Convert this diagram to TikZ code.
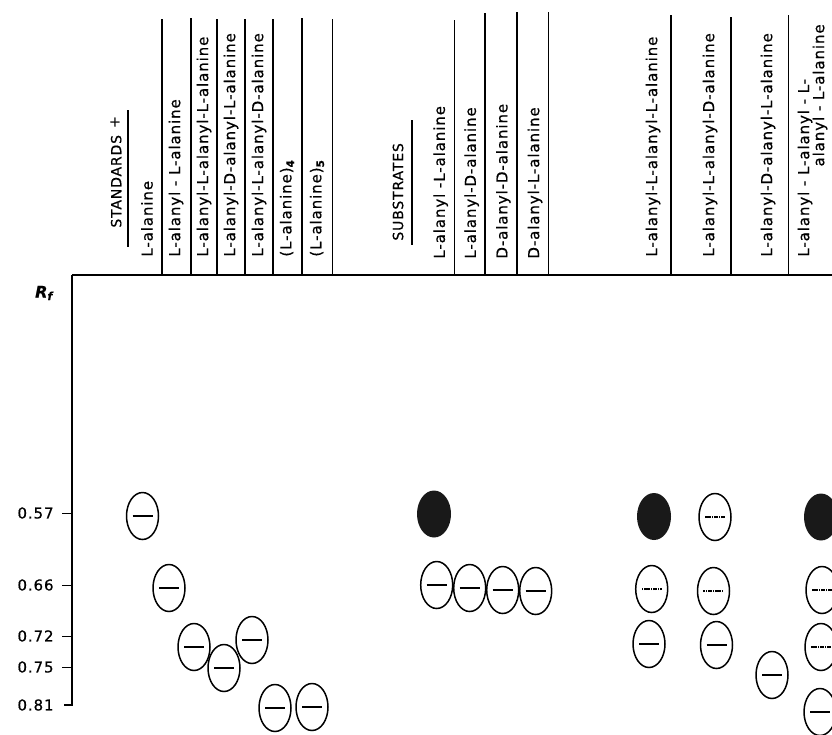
\documentclass[tikz,border=0pt]{standalone}
\usepackage{fontspec}
\setmainfont{DejaVu Sans}[LetterSpace=6, FakeBold=0.6]
\usepackage{tikz}
\usetikzlibrary{shapes.geometric,positioning}
\newcommand{\spotbar}{\rule{20pt}{1.7pt}}
\newcommand{\spotdots}{\hbox to 21pt{\leaders\hbox to 2.3pt{\hss\rule{1.7pt}{2.4pt}\hss}\hfill}}

\begin{document}
\begin{tikzpicture}[
  x=1pt, y=-1pt,
  lbl/.style={rotate=90, anchor=west, inner sep=0pt, font=\fontsize{15}{17}\selectfont},
  head/.style={lbl, font=\fontsize{14}{16}\selectfont},
  tick/.style={anchor=east, inner sep=0pt, font=\fontsize{15}{17}\selectfont},
  spot/.style={ellipse, draw, line width=1.5pt, minimum width=32pt,
               minimum height=47pt, inner sep=0pt},
  spotfill/.style={ellipse, fill=black!90, minimum width=34pt,
                   minimum height=47pt, inner sep=0pt},
  rule/.style={line width=1.6pt},
  thick
]
  \useasboundingbox (0,0) rectangle (832,734);

  % Axes
  \node[font=\fontsize{16}{18}\selectfont\bfseries\itshape] (rf) at (44,293) {R\textsubscript{f}};
  \draw[rule] (72,275) -- (832,275);
  \draw[rule] (72,275) -- (72,705) -- (64,705);
  \node[tick] (r57) at (54,513) {0.57};
  \node[tick] (r66) at (54,585) {0.66};
  \node[tick] (r72) at (54,636) {0.72};
  \node[tick] (r75) at (54,667) {0.75};
  \node[tick] (r81) at (54,705) {0.81};
  \draw (62,513) -- (72,513);
  \draw (62,585) -- (72,585);
  \draw (62,636) -- (72,636);
  \draw (62,667) -- (72,667);

  % Standards
  \node[head] (std) at (116,228) {STANDARDS\enspace\raisebox{2pt}{+}};
  \draw[rule] (128,110) -- (128,247);
  \node[lbl] (l1) at (147,257) {L-alanine};
  \node[lbl] (l2) at (176,257) {L-alanyl - L-alanine};
  \node[lbl] (l3) at (204,257) {L-alanyl-L-alanyl-L-alanine};
  \node[lbl] (l4) at (231,257) {L-alanyl-D-alanyl-L-alanine};
  \node[lbl] (l5) at (259,257) {L-alanyl-L-alanyl-D-alanine};
  \node[lbl] (l6) at (287,257) {(L-alanine)\textsubscript{\textbf{4}}};
  \node[lbl] (l7) at (317,257) {(L-alanine)\textsubscript{\textbf{5}}};
  \draw[rule] (162,19) -- (162,275);
  \draw[rule] (190.7,18) -- (190.7,275);
  \draw[rule] (216.7,19) -- (216.7,275);
  \draw[rule] (245,19) -- (245,275);
  \draw[rule] (272.7,19) -- (272.7,275);
  \draw[rule] (301.7,18) -- (301.7,275);
  \draw[rule] (332.3,19) -- (332.3,275);

  % Substrates
  \node[head] (sub) at (398,241) {SUBSTRATES};
  \node[lbl] (m1) at (440.7,259) {L-alanyl -L-alanine};
  \node[lbl] (m2) at (471.7,259) {L-alanyl-D-alanine};
  \node[lbl] (m3) at (503.3,259) {D-alanyl-D-alanine};
  \node[lbl] (m4) at (535,259) {D-alanyl-L-alanine};
  \draw[rule] (411.7,120) -- (411.7,245);
  \draw[rule] (454.3,20) -- (454.3,275);
  \draw[rule] (485,13) -- (485,275);
  \draw[rule] (516.7,12) -- (516.7,275);
  \draw[rule] (548.3,12) -- (548.3,275);

  % Products
  \node[lbl] (p1) at (653,257) {L-alanyl-L-alanyl-L-alanine};
  \node[lbl] (p2) at (710,257) {L-alanyl-L-alanyl-D-alanine};
  \node[lbl] (p3) at (768,257) {L-alanyl-D-alanyl-L-alanine};
  \node[lbl] (p4) at (805,257) {L-alanyl - L-alanyl - L-};
  \node[lbl, anchor=east] (p4b) at (820,24) {alanyl - L-alanine};
  \draw[rule] (671,15) -- (671,275);
  \draw[rule] (730.7,17) -- (730.7,275);
  \draw[rule] (788.3,15) -- (788.3,275);

  % Spots, standards
  \node[spot] (s1) at (142.5,516) {\spotbar};
  \node[spot] (s2) at (169,588) {\spotbar};
  \node[spot] (s3) at (194,647) {\spotbar};
  \node[spot] (s4) at (224,668) {\spotbar};
  \node[spot] (s5) at (252,640) {\spotbar};
  \node[spot] (s6) at (275,708) {\spotbar};
  \node[spot] (s7) at (312,707) {\spotbar};

  % Spots, substrates
  \node[spotfill] (sf) at (434,514) {};
  \node[spot] (sa) at (436.7,585) {\spotbar};
  \node[spot, right=-0.5pt of sa, yshift=-3pt] (sb) {\spotbar};
  \node[spot, right=-0.5pt of sb, yshift=-2pt] (sc) {\spotbar};
  \node[spot, right=-0.5pt of sc, yshift=-1pt] (sd) {\spotbar};

  % Spots, products
  \node[spotfill] (q1) at (654,516.5) {};
  \node[spot] (q2) at (651.7,589) {\spotdots};
  \node[spot] (q3) at (649,644) {\spotbar};
  \node[spot] (q4) at (715,517) {\spotdots};
  \node[spot] (q5) at (713.5,591) {\spotdots};
  \node[spot] (q6) at (716.5,645) {\spotbar};
  \node[spot] (q7) at (772,675) {\spotbar};
  \node[spotfill] (q8) at (821,517) {};
  \node[spot] (q9) at (822,590) {\spotdots};
  \node[spot] (q10) at (821,647) {\spotdots};
  \node[spot] (q11) at (820,712) {\spotbar};
\end{tikzpicture}
\end{document}
